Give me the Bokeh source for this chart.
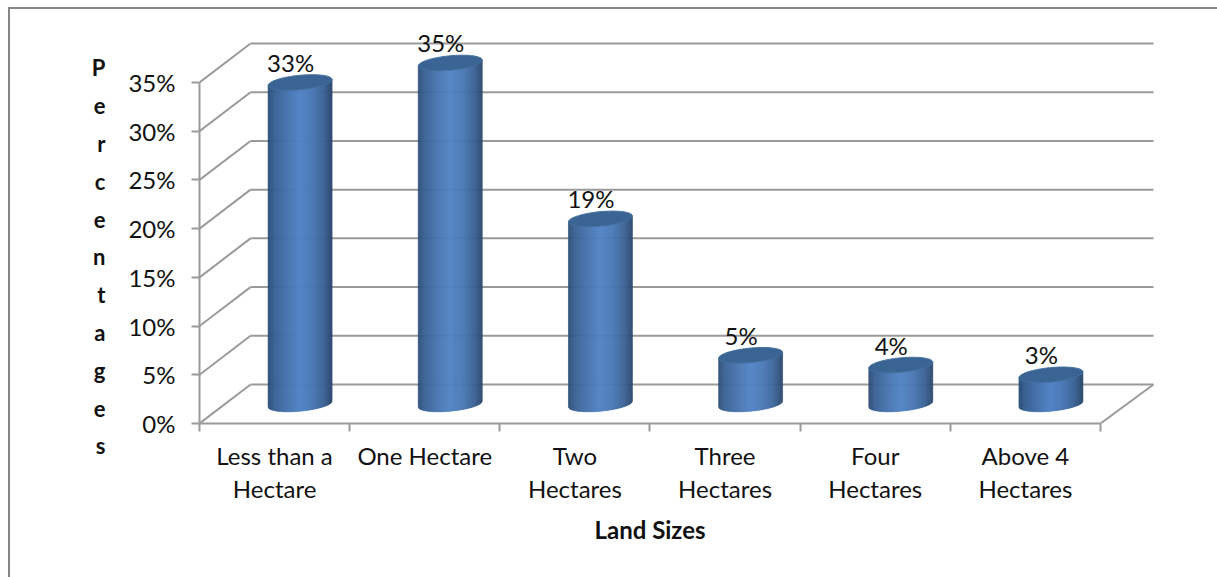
import numpy as np
from bokeh.core.properties import value
from bokeh.embed import file_html
from bokeh.models import (FixedTicker, InlineStyleSheet, LinearAxis,
                          PrintfTickFormatter, Range1d, Title)
from bokeh.plotting import figure
from bokeh.resources import INLINE

categories = ["Less than a\nHectare", "One Hectare", "Two\nHectares",
              "Three\nHectares", "Four\nHectares", "Above 4\nHectares"]
shares = [33, 35, 19, 5, 4, 3]
y_ticks = [0, 5, 10, 15, 20, 25, 30, 35]
y_title = "Percentages"
x_title = "Land Sizes"

FONT = "Lato"
GREY = "#9a9a9a"
TEXT = "#111111"
DEPTH_X = 0.34      # depth of the 3D box, in category units
DEPTH_Y = 4.0       # depth of the 3D box, in percentage points
HALF_W = 0.213      # cylinder radius along x
CAP_B = 0.74        # cap half height
CAP_S = 0.30        # cap tilt

PX_X = 150.17       # pixels per category
PX_Y = 9.743        # pixels per percentage point
x_right = 6 + DEPTH_X + 0.013
x_end = x_right + 3 / PX_X
y_end = 35 + DEPTH_Y + 29 / PX_Y

# The chart area has a thin border along its top and left sides only
border = InlineStyleSheet(css=""":host::before {
  content: ""; position: absolute; left: 8px; top: 7px; right: 0; bottom: 0;
  border-top: 2px solid #868686; border-left: 2px solid #868686;
  z-index: 10; pointer-events: none;
}""")

p = figure(width=1217, height=577, output_backend="svg", toolbar_location=None,
           x_range=Range1d(0, x_end), y_range=Range1d(0, y_end),
           x_axis_type=None, y_axis_type=None,
           min_border_left=199, min_border_right=61, min_border_top=14,
           min_border_bottom=154, outline_line_color=None, stylesheets=[border])
p.xgrid.visible = False
p.ygrid.visible = False

# Back wall lines and their diagonals along the side wall
p.segment(x0=[DEPTH_X] * len(y_ticks), x1=[x_right] * len(y_ticks),
          y0=[t + DEPTH_Y for t in y_ticks], y1=[t + DEPTH_Y for t in y_ticks],
          line_color=GREY, line_width=2)
p.segment(x0=[0] * len(y_ticks), x1=[DEPTH_X] * len(y_ticks),
          y0=y_ticks, y1=[t + DEPTH_Y for t in y_ticks],
          line_color=GREY, line_width=2)
p.segment(x0=[6], y0=[0], x1=[x_right], y1=[DEPTH_Y], line_color=GREY, line_width=2)


def shade(u):
    """Cylinder body colour at u in [-1, 1] across its width."""
    stops_u = [-1.0, -0.8, -0.45, 0.0, 0.4, 0.75, 1.0]
    stops = np.array([[46, 78, 118], [58, 98, 148], [70, 114, 172], [82, 132, 198],
                      [74, 120, 180], [60, 100, 150], [44, 74, 110]])
    rgb = [np.interp(u, stops_u, stops[:, i]) for i in range(3)]
    return "#%02x%02x%02x" % tuple(int(c) for c in rgb)


# Cylinders are drawn as narrow vertical strips so that the body has a horizontal shading
STRIPS = 64
for i, v in enumerate(shares):
    cx = i + 0.5 + DEPTH_X / 2
    base = DEPTH_Y / 2
    edges = np.linspace(-1, 1, STRIPS + 1)
    xs, ys, cols = [], [], []
    for a, b in zip(edges[:-1], edges[1:]):
        us = np.linspace(a, b, 3)
        low = base + CAP_S * us - CAP_B * np.sqrt(1 - us ** 2)
        high = base + v + CAP_S * us
        xs.append(np.r_[cx + HALF_W * us, cx + HALF_W * us[::-1]].tolist())
        ys.append(np.r_[low, high[::-1]].tolist())
        cols.append(shade((a + b) / 2))
    p.patches(xs, ys, fill_color=cols, line_color=cols, line_width=0.6)
    t = np.linspace(0, 2 * np.pi, 90)
    p.patch(cx + HALF_W * np.cos(t),
            base + v + CAP_S * np.cos(t) + CAP_B * np.sin(t),
            fill_color="#3a6494", line_color="#44719f", line_width=1)

p.text(x=[i + 0.5 for i in range(6)], y=[v + DEPTH_Y / 2 for v in shares],
       text=[f"{v}%" for v in shares], x_offset=16, y_offset=-20,
       text_align="center", text_baseline="middle", text_color=TEXT,
       text_font=value(FONT), text_font_size="24px")

# Value axis; its stacked title sits below the middle of the frame, hence the blank rows
y_axis = LinearAxis(ticker=FixedTicker(ticks=y_ticks), bounds=(0, 35),
                    formatter=PrintfTickFormatter(format="%d%%"),
                    axis_line_color=GREY, axis_line_width=2,
                    major_tick_line_color=GREY, major_tick_line_width=2,
                    major_tick_in=0, major_tick_out=8, minor_tick_line_color=None,
                    major_label_standoff=16, major_label_text_font=FONT,
                    major_label_text_font_size="24px", major_label_text_color=TEXT,
                    axis_label=" \n \n" + "\n".join(y_title),
                    axis_label_orientation="horizontal",
                    axis_label_text_font=FONT, axis_label_text_font_style="bold",
                    axis_label_text_font_size="22px", axis_label_text_color=TEXT,
                    axis_label_text_line_height=1.40, axis_label_standoff=20)
p.add_layout(y_axis, "left")

# Category axis: one axis for the boundary ticks, one for the centred labels
tick_positions = list(range(7))
tick_axis = LinearAxis(ticker=FixedTicker(ticks=tick_positions), bounds=(0, 6),
                       axis_line_color=GREY, axis_line_width=2,
                       major_tick_line_color=GREY, major_tick_line_width=2,
                       major_tick_in=0, major_tick_out=8, minor_tick_line_color=None,
                       major_label_overrides={t: "" for t in tick_positions},
                       major_label_standoff=0)
p.add_layout(tick_axis, "below")

centres = [i + 0.5 for i in range(6)]
label_axis = LinearAxis(ticker=FixedTicker(ticks=centres), bounds=(0, 6),
                        major_label_overrides={c: t for c, t in zip(centres, categories)},
                        axis_line_color=None, major_tick_line_color=None,
                        minor_tick_line_color=None, major_tick_in=0, major_tick_out=0,
                        major_label_standoff=9, major_label_text_font=FONT,
                        major_label_text_font_size="24px", major_label_text_color=TEXT,
                        major_label_text_line_height=1.14)
p.add_layout(label_axis, "below")

p.add_layout(Title(text=x_title, align="left", offset=395, standoff=15,
                   text_font=FONT, text_font_style="bold", text_font_size="24px",
                   text_color=TEXT), "below")

open("out.html", "w").write(file_html(p, INLINE))
